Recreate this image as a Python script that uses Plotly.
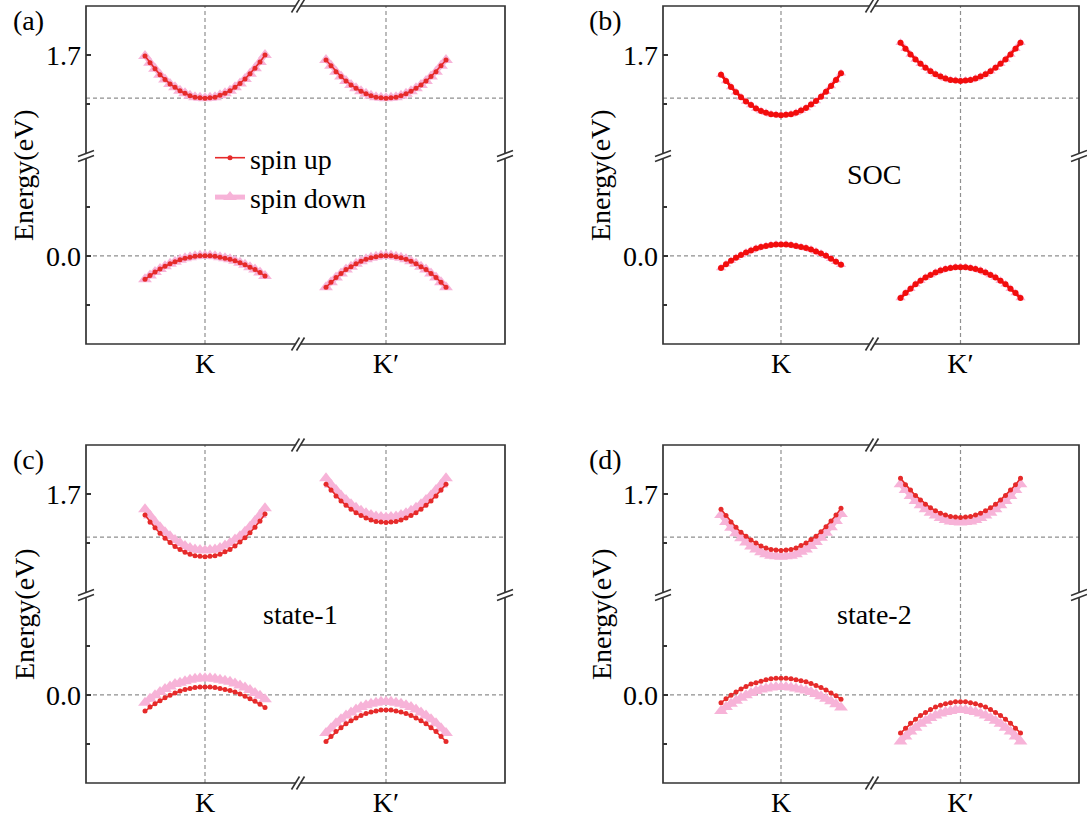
import plotly.graph_objects as go

W, H = 1087, 818

# k measured from the valley point (K or K'), same grid for every band
K_OFFSET = [-0.12, -0.11, -0.10, -0.09, -0.08, -0.07, -0.06, -0.05, -0.04, -0.03, -0.02, -0.01, 0.0,
            0.01, 0.02, 0.03, 0.04, 0.05, 0.06, 0.07, 0.08, 0.09, 0.10, 0.11, 0.12]

VALLEY_LABELS = ["K", "K\u2032"]
PANEL_LABELS = ["(a)", "(b)", "(c)", "(d)"]
PANEL_NOTES = ["", "SOC", "state-1", "state-2"]
E_VBM = 0.0          # valence band maximum reference (dashed line)
E_CBM_REF = 1.612    # conduction band minimum without SOC (dashed line)
UPPER_TICK, UPPER_MINOR = [1.7], [1.6]
LOWER_TICK, LOWER_MINOR = [0.0], [-0.1, 0.1]
UPPER_RANGE = [1.494, 1.80]
LOWER_RANGE = [-0.18, 0.204]

# (a) no SOC: spin up and spin down coincide
A_K_CB = [1.698, 1.684, 1.672, 1.660, 1.650, 1.641, 1.634, 1.627, 1.622, 1.617, 1.614, 1.613, 1.612,
          1.613, 1.614, 1.618, 1.622, 1.627, 1.634, 1.642, 1.651, 1.662, 1.673, 1.686, 1.700]
A_K_VB = [-0.048, -0.040, -0.033, -0.027, -0.021, -0.016, -0.012, -0.008, -0.005, -0.003, -0.001, 0.000, 0.000,
          0.000, -0.001, -0.003, -0.005, -0.007, -0.010, -0.014, -0.018, -0.023, -0.028, -0.034, -0.041]
A_KP_CB = [1.690, 1.678, 1.666, 1.656, 1.647, 1.639, 1.632, 1.626, 1.621, 1.617, 1.614, 1.613, 1.612,
           1.613, 1.614, 1.617, 1.621, 1.626, 1.632, 1.639, 1.647, 1.656, 1.666, 1.678, 1.690]
A_KP_VB = [-0.064, -0.054, -0.044, -0.036, -0.028, -0.022, -0.016, -0.011, -0.007, -0.004, -0.002, 0.000, 0.000,
           0.000, -0.002, -0.004, -0.007, -0.011, -0.016, -0.022, -0.028, -0.036, -0.044, -0.054, -0.064]

# (b) SOC
B_K_CB = [1.660, 1.647, 1.635, 1.624, 1.614, 1.605, 1.598, 1.591, 1.586, 1.582, 1.579, 1.578, 1.577,
          1.578, 1.579, 1.582, 1.587, 1.592, 1.599, 1.606, 1.615, 1.625, 1.637, 1.649, 1.663]
B_KP_CB = [1.725, 1.713, 1.701, 1.691, 1.682, 1.674, 1.667, 1.661, 1.656, 1.652, 1.649, 1.648, 1.647,
           1.648, 1.649, 1.652, 1.656, 1.661, 1.667, 1.674, 1.682, 1.691, 1.701, 1.713, 1.725]
B_K_VB = [-0.025, -0.017, -0.010, -0.004, 0.002, 0.007, 0.011, 0.015, 0.018, 0.020, 0.022, 0.023, 0.023,
          0.023, 0.022, 0.020, 0.018, 0.016, 0.013, 0.009, 0.005, 0.000, -0.006, -0.012, -0.018]
B_KP_VB = [-0.086, -0.076, -0.067, -0.058, -0.051, -0.044, -0.039, -0.034, -0.030, -0.027, -0.025, -0.023, -0.023,
           -0.023, -0.025, -0.027, -0.030, -0.034, -0.039, -0.044, -0.051, -0.058, -0.067, -0.076, -0.086]

# (c) state-1
C_K_CB_UP = [1.657, 1.643, 1.631, 1.620, 1.610, 1.601, 1.593, 1.587, 1.581, 1.577, 1.574, 1.573, 1.572,
             1.573, 1.574, 1.577, 1.582, 1.587, 1.594, 1.602, 1.611, 1.621, 1.632, 1.645, 1.659]
C_K_CB_DN = [1.669, 1.656, 1.643, 1.632, 1.622, 1.614, 1.606, 1.600, 1.594, 1.590, 1.587, 1.586, 1.585,
             1.586, 1.587, 1.590, 1.595, 1.600, 1.607, 1.614, 1.623, 1.633, 1.645, 1.657, 1.671]
C_KP_CB_UP = [1.720, 1.708, 1.696, 1.686, 1.677, 1.669, 1.662, 1.656, 1.651, 1.647, 1.644, 1.643, 1.642,
              1.643, 1.644, 1.647, 1.651, 1.656, 1.662, 1.669, 1.677, 1.686, 1.696, 1.708, 1.720]
C_KP_CB_DN = [1.732, 1.719, 1.708, 1.697, 1.688, 1.679, 1.672, 1.666, 1.661, 1.657, 1.654, 1.653, 1.652,
              1.653, 1.654, 1.657, 1.661, 1.666, 1.672, 1.679, 1.688, 1.697, 1.708, 1.719, 1.732]
C_K_VB_UP = [-0.033, -0.025, -0.018, -0.012, -0.006, -0.001, 0.004, 0.008, 0.011, 0.013, 0.015, 0.016, 0.016,
             0.016, 0.015, 0.013, 0.011, 0.009, 0.006, 0.002, -0.003, -0.008, -0.013, -0.019, -0.026]
C_K_VB_DN = [-0.016, -0.008, -0.001, 0.006, 0.012, 0.017, 0.022, 0.025, 0.028, 0.031, 0.033, 0.034, 0.034,
             0.034, 0.033, 0.031, 0.029, 0.027, 0.023, 0.019, 0.015, 0.010, 0.004, -0.002, -0.009]
C_KP_VB_UP = [-0.095, -0.085, -0.075, -0.067, -0.059, -0.053, -0.047, -0.042, -0.038, -0.035, -0.033, -0.031, -0.031,
              -0.031, -0.033, -0.035, -0.038, -0.042, -0.047, -0.053, -0.059, -0.067, -0.075, -0.085, -0.095]
C_KP_VB_DN = [-0.078, -0.068, -0.058, -0.050, -0.042, -0.036, -0.030, -0.025, -0.021, -0.018, -0.016, -0.014, -0.014,
              -0.014, -0.016, -0.018, -0.021, -0.025, -0.030, -0.036, -0.042, -0.050, -0.058, -0.068, -0.078]

# (d) state-2: the two spin channels of state-1 exchanged
D_K_CB_UP, D_K_CB_DN = C_K_CB_DN, C_K_CB_UP
D_KP_CB_UP, D_KP_CB_DN = C_KP_CB_DN, C_KP_CB_UP
D_K_VB_UP, D_K_VB_DN = C_K_VB_DN, C_K_VB_UP
D_KP_VB_UP, D_KP_VB_DN = C_KP_VB_DN, C_KP_VB_UP

# per panel, per valley: (CB up, CB down, VB up, VB down)
PANEL_BANDS = [
    [(A_K_CB, A_K_CB, A_K_VB, A_K_VB), (A_KP_CB, A_KP_CB, A_KP_VB, A_KP_VB)],
    [(B_K_CB, B_K_CB, B_K_VB, B_K_VB), (B_KP_CB, B_KP_CB, B_KP_VB, B_KP_VB)],
    [(C_K_CB_UP, C_K_CB_DN, C_K_VB_UP, C_K_VB_DN), (C_KP_CB_UP, C_KP_CB_DN, C_KP_VB_UP, C_KP_VB_DN)],
    [(D_K_CB_UP, D_K_CB_DN, D_K_VB_UP, D_K_VB_DN), (D_KP_CB_UP, D_KP_CB_DN, D_KP_VB_UP, D_KP_VB_DN)],
]

# panel frames in pixels: left, x-break, right, top, y-break, bottom, K and K' positions
GEOM = [
    dict(left=86, brk=298, right=505, top=6, ybrk=156, bottom=344, kx=205, kpx=386),
    dict(left=663, brk=872, right=1079, top=6, ybrk=156, bottom=344, kx=781, kpx=960.5),
    dict(left=86, brk=298, right=505, top=445, ybrk=595, bottom=783, kx=205, kpx=386),
    dict(left=663, brk=872, right=1079, top=445, ybrk=595, bottom=783, kx=781, kpx=960.5),
]
K_PER_PX = 0.002

RED = "#e62a2a"
RED_SOC = "#f20d0d"
PINK = "#f7b3d8"
FRAME = "#333333"
GRID = "#8f8f8f"
FONT = "Liberation Serif, Times New Roman, serif"

STYLE = [
    dict(up_w=1.6, up_s=5, dn_w=5, dn_s=12),
    dict(up_w=2.6, up_s=6, dn_w=3, dn_s=9),
    dict(up_w=1.6, up_s=5, dn_w=5, dn_s=12),
    dict(up_w=1.6, up_s=5, dn_w=5, dn_s=12),
]


def xp(px):
    return px / W


def yp(py):
    return 1 - py / H


def ref(kind, n):
    return kind if n == 1 else f"{kind}{n}"


def lay(kind, n):
    return f"{kind}axis" if n == 1 else f"{kind}axis{n}"


fig = go.Figure()
layout_axes = {}
shapes = []
annotations = []
legend_done = False

for p, g in enumerate(GEOM):
    ixk, ixkp = 2 * p + 1, 2 * p + 2
    iyu, iyl = 2 * p + 1, 2 * p + 2
    st = STYLE[p]
    red = RED_SOC if p == 1 else RED

    # bands
    for vi, ixn in enumerate((ixk, ixkp)):
        cb_up, cb_dn, vb_up, vb_dn = PANEL_BANDS[p][vi]
        for up, dn, iyn in ((cb_up, cb_dn, iyu), (vb_up, vb_dn, iyl)):
            show = not legend_done
            fig.add_trace(go.Scatter(
                x=K_OFFSET, y=dn, xaxis=ref("x", ixn), yaxis=ref("y", iyn),
                mode="lines+markers", name="spin down", showlegend=show, legendrank=2,
                line=dict(color=PINK, width=st["dn_w"]),
                marker=dict(symbol="triangle-up", size=st["dn_s"], color=PINK)))
            fig.add_trace(go.Scatter(
                x=K_OFFSET, y=up, xaxis=ref("x", ixn), yaxis=ref("y", iyn),
                mode="lines+markers", name="spin up", showlegend=show, legendrank=1,
                line=dict(color=red, width=st["up_w"]),
                marker=dict(symbol="circle", size=st["up_s"], color=red)))
            legend_done = True

    # axes
    xcommon = dict(showgrid=False, zeroline=False, showline=False, ticks="", tickvals=[0.0],
                   tickfont=dict(family=FONT, size=28, color="black"), fixedrange=True)
    layout_axes[lay("x", ixk)] = dict(
        xcommon, domain=[xp(g["left"]), xp(g["brk"])], anchor=ref("y", iyl),
        range=[(g["left"] - g["kx"]) * K_PER_PX, (g["brk"] - g["kx"]) * K_PER_PX],
        ticktext=[VALLEY_LABELS[0]])
    layout_axes[lay("x", ixkp)] = dict(
        xcommon, domain=[xp(g["brk"]), xp(g["right"])], anchor=ref("y", iyl),
        range=[(g["brk"] - g["kpx"]) * K_PER_PX, (g["right"] - g["kpx"]) * K_PER_PX],
        ticktext=[VALLEY_LABELS[1]])
    ycommon = dict(showgrid=False, zeroline=False, showline=False, ticks="inside", ticklen=5,
                   tickwidth=1.5, tickcolor=FRAME, anchor=ref("x", ixk), ticklabelstandoff=4,
                   tickfont=dict(family=FONT, size=28, color="black"), fixedrange=True)
    layout_axes[lay("y", iyu)] = dict(
        ycommon, domain=[yp(g["ybrk"]), yp(g["top"])], range=UPPER_RANGE,
        tickvals=UPPER_TICK, ticktext=[f"{v:.1f}" for v in UPPER_TICK],
        minor=dict(tickvals=UPPER_MINOR, ticks="inside", ticklen=4, tickwidth=1.5, tickcolor=FRAME))
    layout_axes[lay("y", iyl)] = dict(
        ycommon, domain=[yp(g["bottom"]), yp(g["ybrk"])], range=LOWER_RANGE,
        tickvals=LOWER_TICK, ticktext=[f"{v:.1f}" for v in LOWER_TICK],
        minor=dict(tickvals=LOWER_MINOR, ticks="inside", ticklen=4, tickwidth=1.5, tickcolor=FRAME))

    # dashed reference lines
    dash = dict(color=GRID, width=1.2, dash="4px,3px")
    for ixn in (ixk, ixkp):
        shapes.append(dict(type="line", xref=ref("x", ixn), yref="paper", x0=0, x1=0,
                           y0=yp(g["bottom"]), y1=yp(g["top"]), line=dash, layer="below"))
    shapes.append(dict(type="line", xref="paper", yref=ref("y", iyl), x0=xp(g["left"]), x1=xp(g["right"]),
                       y0=E_VBM, y1=E_VBM, line=dash, layer="below"))
    shapes.append(dict(type="line", xref="paper", yref=ref("y", iyu), x0=xp(g["left"]), x1=xp(g["right"]),
                       y0=E_CBM_REF, y1=E_CBM_REF, line=dash, layer="below"))

    # frame
    shapes.append(dict(type="rect", xref="paper", yref="paper", x0=xp(g["left"]), x1=xp(g["right"]),
                       y0=yp(g["bottom"]), y1=yp(g["top"]), line=dict(color=FRAME, width=1.7),
                       fillcolor="rgba(0,0,0,0)"))

    # axis-break marks on the frame
    def slash_pair(pts_a, pts_b):
        (ax0, ay0), (ax1, ay1) = pts_a
        (bx0, by0), (bx1, by1) = pts_b
        path = (f"M{xp(ax0)},{yp(ay0)} L{xp(ax1)},{yp(ay1)} "
                f"L{xp(bx1)},{yp(by1)} L{xp(bx0)},{yp(by0)} Z")
        shapes.append(dict(type="path", xref="paper", yref="paper", path=path,
                           fillcolor="white", line=dict(width=0)))
        for (x0, y0), (x1, y1) in (pts_a, pts_b):
            shapes.append(dict(type="line", xref="paper", yref="paper", x0=xp(x0), y0=yp(y0),
                               x1=xp(x1), y1=yp(y1), line=dict(color=FRAME, width=1.6)))

    for yf in (g["top"], g["bottom"]):
        bx = g["brk"]
        slash_pair(((bx - 2.5 - 4, yf + 6.5), (bx - 2.5 + 4, yf - 6.5)),
                   ((bx + 2.5 - 4, yf + 6.5), (bx + 2.5 + 4, yf - 6.5)))
    for xf in (g["left"], g["right"]):
        by = g["ybrk"]
        slash_pair(((xf - 8, by + 0.5), (xf + 8, by - 5.5)),
                   ((xf - 8, by + 5.5), (xf + 8, by - 0.5)))

    # texts
    tfont = dict(family=FONT, size=28, color="black")
    annotations.append(dict(text=PANEL_LABELS[p], xref="paper", yref="paper",
                            x=xp(g["left"] - 58), y=yp(g["top"] + 14), xanchor="center", yanchor="middle",
                            showarrow=False, font=tfont))
    annotations.append(dict(text="Energy(eV)", xref="paper", yref="paper", textangle=-90,
                            x=xp(g["left"] - 62), y=yp((g["top"] + g["bottom"]) / 2),
                            xanchor="center", yanchor="middle", showarrow=False, font=tfont))
    if PANEL_NOTES[p]:
        annotations.append(dict(text=PANEL_NOTES[p], xref="paper", yref="paper",
                                x=xp(g["brk"] + 2), y=yp(g["ybrk"] + 19),
                                xanchor="center", yanchor="middle", showarrow=False, font=tfont))

fig.update_layout(
    width=W, height=H, autosize=False,
    margin=dict(l=0, r=0, t=0, b=0),
    paper_bgcolor="white", plot_bgcolor="rgba(0,0,0,0)",
    font=dict(family=FONT, size=28, color="black"),
    shapes=shapes, annotations=annotations,
    showlegend=True,
    legend=dict(x=xp(210), y=yp(133), xanchor="left", yanchor="top",
                bgcolor="rgba(0,0,0,0)", borderwidth=0, tracegroupgap=0,
                font=dict(family=FONT, size=28, color="black")),
    **layout_axes,
)

fig.write_html("out.html")
